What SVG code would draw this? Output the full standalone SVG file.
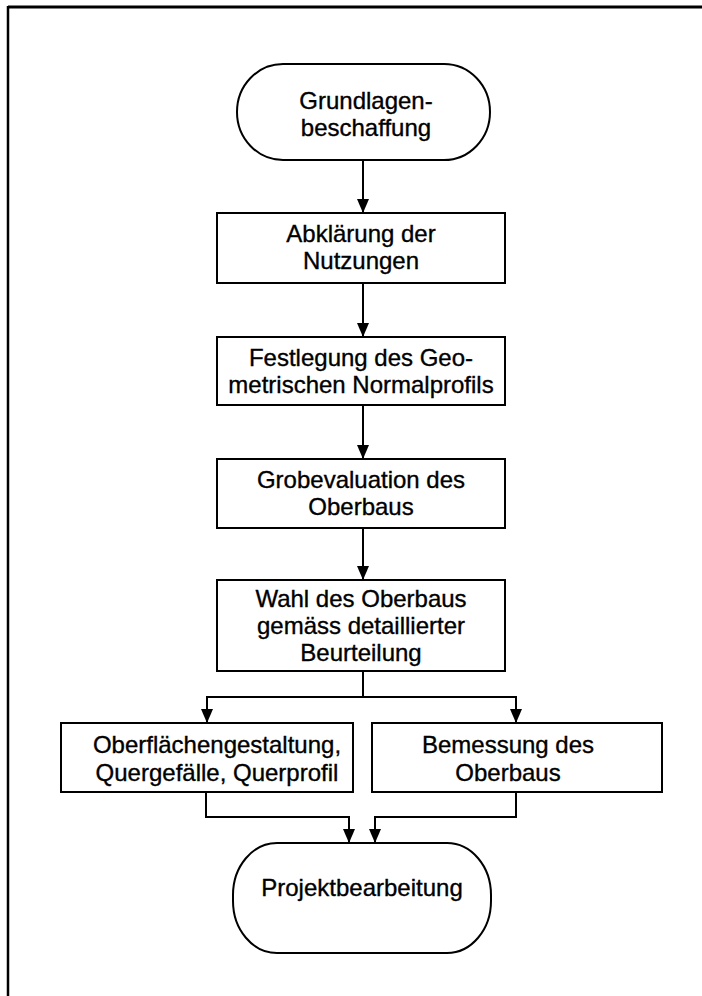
<svg xmlns="http://www.w3.org/2000/svg" width="702" height="996" viewBox="0 0 702 996">
<style>
.box{fill:#fff;stroke:#000;stroke-width:2}
.t{font-family:"Liberation Sans",Arial,sans-serif;font-size:24px;fill:#000;stroke:#000;stroke-width:0.35;text-anchor:middle}
.c{fill:none;stroke:#000;stroke-width:2}
</style>
<defs>
<marker id="a" markerUnits="userSpaceOnUse" markerWidth="14" markerHeight="12" refX="14" refY="6" orient="auto" viewBox="0 0 14 12">
<path d="M0,0 L14,6 L0,12 z" fill="#000"/>
</marker>
</defs>
<rect width="702" height="996" fill="#fff"/>
<g id="frame">
<line x1="8" y1="7" x2="702" y2="7" stroke="#000" stroke-width="3"/>
<line x1="8" y1="6" x2="8" y2="996" stroke="#000" stroke-width="2.5"/>
</g>
<g id="connectors">
<path class="c" d="M363,160 V213" marker-end="url(#a)"/>
<path class="c" d="M363,283 V337" marker-end="url(#a)"/>
<path class="c" d="M363,405 V459" marker-end="url(#a)"/>
<path class="c" d="M363,528 V580" marker-end="url(#a)"/>
<path class="c" d="M363,671 V697 H207 V723" marker-end="url(#a)"/>
<path class="c" d="M363,697 H516 V723" marker-end="url(#a)"/>
<path class="c" d="M206,792 V817 H349 V843" marker-end="url(#a)"/>
<path class="c" d="M516,792 V817 H375 V843" marker-end="url(#a)"/>
</g>
<g id="n1">
<rect class="box" x="237" y="64" width="253" height="96" rx="46" ry="48"/>
<text class="t" x="366" y="109">Grundlagen-</text>
<text class="t" x="366" y="136">beschaffung</text>
</g>
<g id="n2">
<rect class="box" x="217" y="213" width="288" height="70"/>
<text class="t" x="361" y="242">Abklärung der</text>
<text class="t" x="361" y="269">Nutzungen</text>
</g>
<g id="n3">
<rect class="box" x="217" y="337" width="288" height="68"/>
<text class="t" x="361" y="366">Festlegung des Geo-</text>
<text class="t" x="361" y="393">metrischen Normalprofils</text>
</g>
<g id="n4">
<rect class="box" x="217" y="459" width="288" height="69"/>
<text class="t" x="361" y="488">Grobevaluation des</text>
<text class="t" x="361" y="515">Oberbaus</text>
</g>
<g id="n5">
<rect class="box" x="217" y="580" width="288" height="91"/>
<text class="t" x="361" y="607">Wahl des Oberbaus</text>
<text class="t" x="361" y="634">gemäss detaillierter</text>
<text class="t" x="361" y="661">Beurteilung</text>
</g>
<g id="n6">
<rect class="box" x="61" y="723" width="292" height="69"/>
<text class="t" x="217" y="753">Oberflächengestaltung,</text>
<text class="t" x="217" y="781">Quergefälle, Querprofil</text>
</g>
<g id="n7">
<rect class="box" x="372" y="723" width="290" height="69"/>
<text class="t" x="508" y="753">Bemessung des</text>
<text class="t" x="508" y="781">Oberbaus</text>
</g>
<g id="n8">
<rect class="box" x="233" y="843" width="258" height="110" rx="44" ry="52"/>
<text class="t" x="362" y="896">Projektbearbeitung</text>
</g>
</svg>
